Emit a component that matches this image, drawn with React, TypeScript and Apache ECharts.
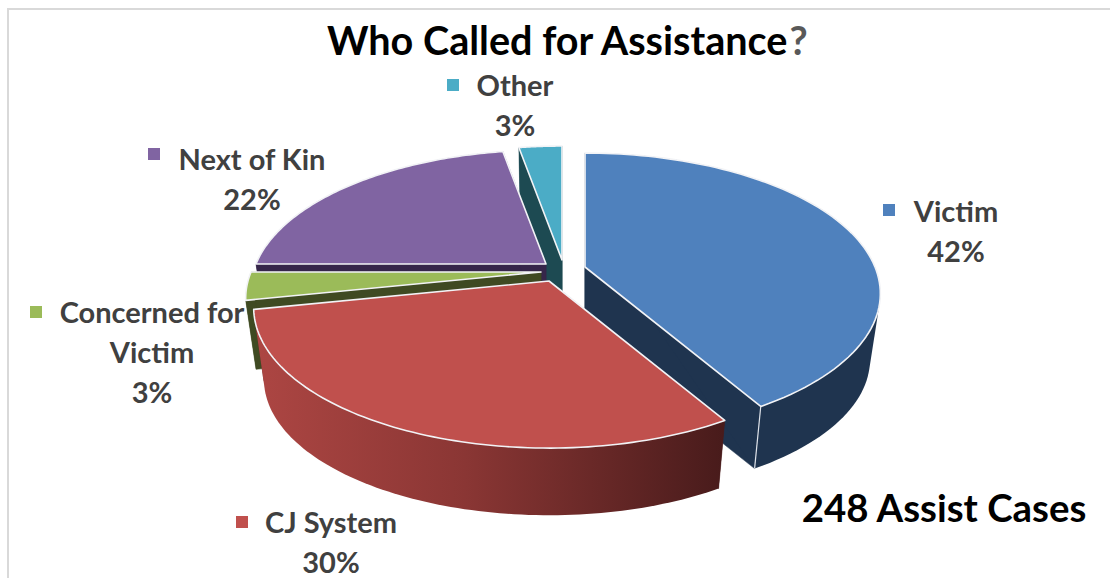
import React, { useEffect, useRef } from "react";
import * as echarts from "echarts";

const titleText = "Who Called for Assistance";
const noteText = "248 Assist Cases";
const categories = ["Victim", "CJ System", "Concerned for\nVictim", "Next of Kin", "Other"];
const cases = [103, 75, 8, 55, 7];

const topColors = ["#4f81bd", "#c0504d", "#9bbb59", "#8064a2", "#4bacc6"];
const wallColors = ["#1f344f", "#4a1c1c", "#3f4a22", "#36264a", "#1d4a52"];
const apexX = [585, 549, 541, 546, 562];
const apexY = [267, 281, 272, 264, 260];
const depths = [67, 73, 70, 70, 70];
const drawOrder = [4, 3, 2, 0, 1];
const labelX = [956, 331, 152, 252, 515];
const labelY = [230, 541, 351, 178, 104];
const keyX = [883, 236, 30, 148, 447];
const keyY = [204, 516, 306, 148, 79];

const RX = 290;
const RY = 135.5;
const K = 0.189;
const BOTTOM_SCALE = 0.965;
const STEPS = 90;

const total = cases.reduce((a, b) => a + b, 0);
const starts: number[] = [];
cases.reduce((acc, v, i) => {
  starts[i] = acc;
  return acc + v;
}, 0);

function project(i: number, theta: number, low: boolean): number[] {
  const u = Math.sin(theta);
  const v = Math.cos(theta);
  const w = 1 + K * v;
  const dx = (RX * u) / w;
  const dy = (-RY * v) / w;
  if (low) return [apexX[i] + dx * BOTTOM_SCALE, apexY[i] + dy * BOTTOM_SCALE + depths[i]];
  return [apexX[i] + dx, apexY[i] + dy];
}

function arc(i: number, low: boolean): number[][] {
  const a0 = (starts[i] / total) * Math.PI * 2;
  const a1 = ((starts[i] + cases[i]) / total) * Math.PI * 2;
  const pts: number[][] = [];
  for (let s = 0; s <= STEPS; s++) pts.push(project(i, a0 + ((a1 - a0) * s) / STEPS, low));
  return pts;
}

// Convex hull of both rim arcs: one clean outline that joins the two ellipses.
function hull(points: number[][]): number[][] {
  const pts = points.slice().sort((a, b) => a[0] - b[0] || a[1] - b[1]);
  const cross = (o: number[], a: number[], b: number[]) =>
    (a[0] - o[0]) * (b[1] - o[1]) - (a[1] - o[1]) * (b[0] - o[0]);
  const build = (list: number[][]) => {
    const out: number[][] = [];
    for (const p of list) {
      while (out.length >= 2 && cross(out[out.length - 2], out[out.length - 1], p) <= 0) out.pop();
      out.push(p);
    }
    out.pop();
    return out;
  };
  return [...build(pts), ...build(pts.slice().reverse())];
}

function sliceElements(i: number) {
  const top = arc(i, false);
  const low = arc(i, true);
  const apex = [apexX[i], apexY[i]];
  const apexLow = [apexX[i], apexY[i] + depths[i]];
  const first = top[0];
  const last = top[top.length - 1];
  const firstLow = low[0];
  const lastLow = low[low.length - 1];
  const wall = wallColors[i];
  const xs = top.map((p) => p[0]);
  const rimFill: any =
    i === 1
      ? new echarts.graphic.LinearGradient(
          Math.min(...xs),
          0,
          Math.max(...xs),
          0,
          [
            { offset: 0, color: "#ad4643" },
            { offset: 0.45, color: "#8a3634" },
            { offset: 1, color: "#481b1b" },
          ],
          true
        )
      : wall;
  const edge = { stroke: "#f2f3f6", lineWidth: 1.6, lineJoin: "round" };
  return [
    {
      type: "polygon",
      shape: { points: [apex, first, firstLow, apexLow] },
      style: { fill: wall, stroke: wall, lineWidth: 0.5 },
    },
    {
      type: "polygon",
      shape: { points: [apex, last, lastLow, apexLow] },
      style: { fill: wall, stroke: wall, lineWidth: 0.5 },
    },
    {
      type: "polygon",
      shape: { points: hull([...top, ...low]) },
      style: { fill: rimFill },
    },
    {
      type: "polygon",
      shape: { points: [apex, ...top] },
      style: { fill: topColors[i], ...edge },
    },
  ] as any[];
}

function renderSlice(_params: any, api: any) {
  const i = api.value(0);
  const children: any[] = sliceElements(i);
  if (i === 0) {
    const p = project(0, (cases[0] / total) * Math.PI * 2, false);
    const q = project(0, (cases[0] / total) * Math.PI * 2, true);
    children.push({
      type: "line",
      shape: { x1: p[0], y1: p[1], x2: q[0], y2: q[1] },
      style: { stroke: "#dfe3ea", lineWidth: 1.2 },
    });
  }
  return { type: "group", children };
}

function labelElements() {
  const items: any[] = [];
  categories.forEach((name, i) => {
    const pct = Math.round((cases[i] / total) * 100);
    items.push({
      type: "text",
      x: labelX[i],
      y: labelY[i],
      style: {
        text: `${name}\n${pct}%`,
        fill: "#404040",
        font: 'bold 29px Lato, "Open Sans", sans-serif',
        align: "center",
        verticalAlign: "middle",
        lineHeight: 40,
      },
    });
    items.push({
      type: "rect",
      shape: { x: keyX[i], y: keyY[i], width: 12, height: 12 },
      style: { fill: topColors[i] },
    });
  });
  return items;
}

export default function App() {
  const ref = useRef<HTMLDivElement>(null);
  useEffect(() => {
    const chart = echarts.init(ref.current!, null, { renderer: "svg" });
    chart.setOption({
      animation: false,
      backgroundColor: "#ffffff",
      title: {
        text: `{a|${titleText}}{b|?}`,
        left: 327,
        top: 19,
        padding: 0,
        textStyle: {
          rich: {
            a: { fontFamily: "Lato", fontWeight: "bold", fontSize: 39.6, color: "#000000" },
            b: { fontFamily: "Lato", fontWeight: "bold", fontSize: 39.6, color: "#595959" },
          },
        },
      },
      graphic: [
        {
          type: "polyline",
          shape: { points: [[8, 578], [8, 9], [1110, 9]] },
          style: { stroke: "#d9d9d9", lineWidth: 2, fill: "none" },
        },
        ...labelElements(),
        {
          type: "text",
          x: 944,
          y: 507,
          style: {
            text: noteText,
            fill: "#000000",
            font: 'bold 38.4px Lato, "Open Sans", sans-serif',
            align: "center",
            verticalAlign: "middle",
          },
        },
      ],
      series: [
        {
          type: "custom",
          coordinateSystem: "none",
          renderItem: renderSlice,
          data: drawOrder.map((i) => [i]),
          silent: true,
        },
      ],
    });
    return () => chart.dispose();
  }, []);
  return <div ref={ref} style={{ position: "absolute", left: 0, top: 0, width: 1110, height: 578 }} />;
}
